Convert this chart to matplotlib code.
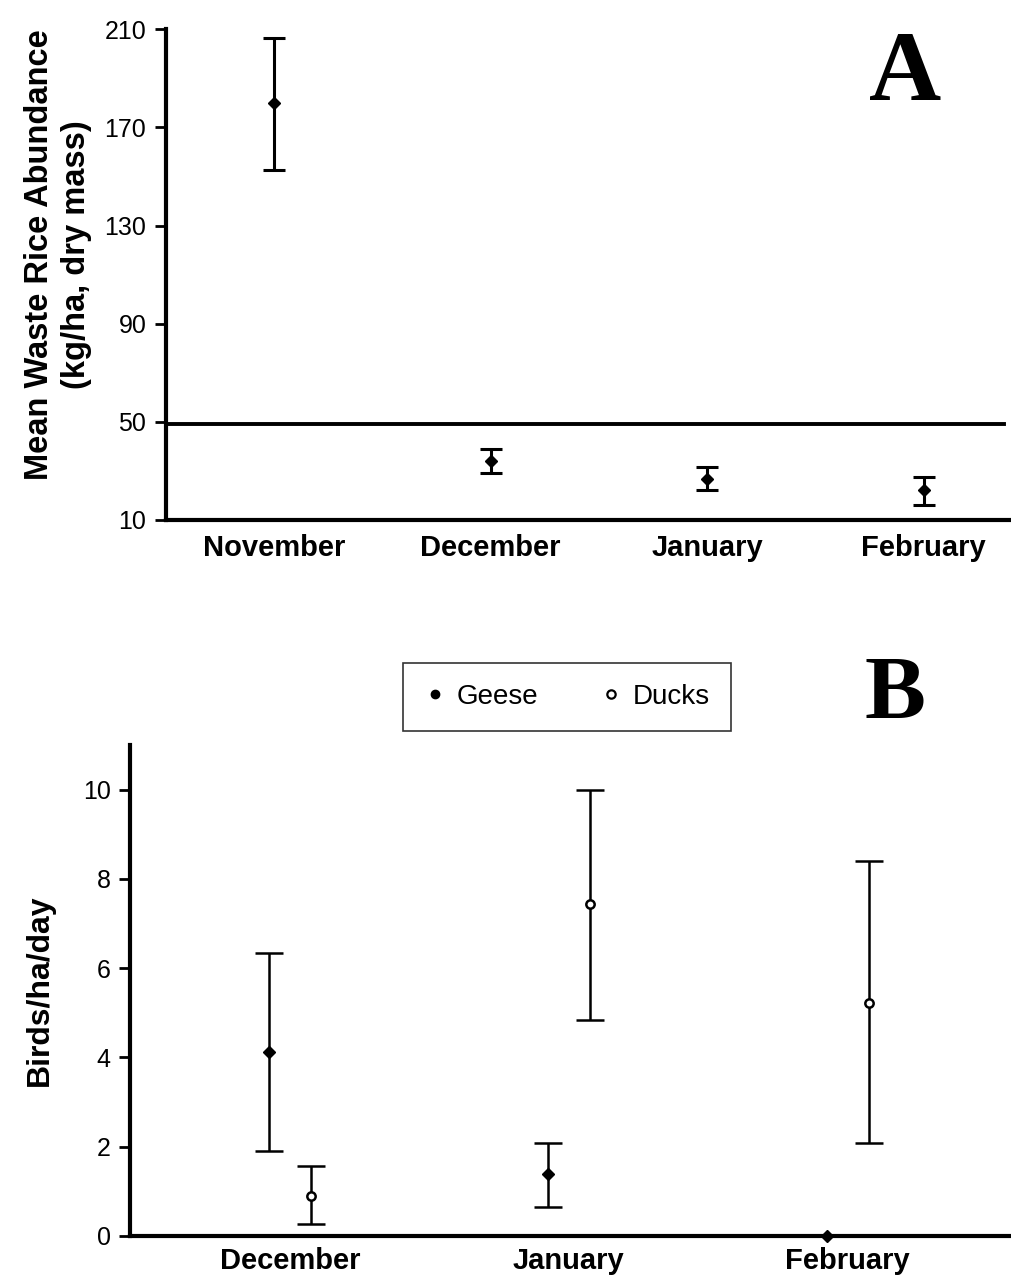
import matplotlib.pyplot as plt
from matplotlib.lines import Line2D

plt.rcParams['font.family'] = ['Liberation Sans', 'DejaVu Sans']

# Panel A: waste rice abundance
months_a = ['November', 'December', 'January', 'February']
rice_mean = [180, 34, 26.5, 22]
rice_low = [152.5, 29, 22, 16]
rice_high = [206.5, 39, 31.5, 27.5]
rice_threshold = 49

# Panel B: bird use
months_b = ['December', 'January', 'February']
geese_mean = [4.12, 1.38, 0.0]
geese_low = [1.9, 0.64, 0.0]
geese_high = [6.33, 2.09, 0.0]
ducks_mean = [0.9, 7.43, 5.21]
ducks_low = [0.26, 4.83, 2.08]
ducks_high = [1.56, 10.0, 8.41]

fig = plt.figure(figsize=(10.11, 12.8), dpi=100)

# ---- A ----
ax1 = fig.add_axes([0.164, 0.594, 0.846, 0.383])
xa = list(range(len(months_a)))
yerr_a = [[m - l for m, l in zip(rice_mean, rice_low)],
          [h - m for m, h in zip(rice_mean, rice_high)]]
ax1.errorbar(xa, rice_mean, yerr=yerr_a, fmt='D', color='black', ms=6,
             capsize=8, elinewidth=2.2, capthick=2.2)
ax1.axhline(rice_threshold, xmin=0, xmax=0.98, color='black', lw=2.8)
ax1.set_ylim(10, 210)
ax1.set_xlim(-0.5, 3.45)
ax1.set_yticks([10, 50, 90, 130, 170, 210])
ax1.set_xticks(xa)
ax1.set_xticklabels(months_a, fontsize=21, fontweight='bold')
ax1.tick_params(axis='y', labelsize=18, length=8, width=2, pad=6)
ax1.tick_params(axis='x', length=0, pad=10)
ax1.set_ylabel('Mean Waste Rice Abundance\n(kg/ha, dry mass)', fontsize=23.5,
               fontweight='bold', linespacing=1.25)
ax1.yaxis.set_label_coords(-0.086, 0.54)
for s in ['top', 'right']:
    ax1.spines[s].set_visible(False)
ax1.spines['left'].set_linewidth(3)
ax1.spines['bottom'].set_linewidth(3)
ax1.text(0.864, 0.905, 'A', transform=ax1.transAxes, fontsize=72,
         fontweight='bold', family='Liberation Serif', ha='center', va='center')

# ---- B ----
ax2 = fig.add_axes([0.1286, 0.0344, 0.8714, 0.3836])
xb = list(range(len(months_b)))
off = 0.075
xg = [x - off for x in xb]
xd = [x + off for x in xb]
yerr_g = [[m - l for m, l in zip(geese_mean, geese_low)],
          [h - m for m, h in zip(geese_mean, geese_high)]]
yerr_d = [[m - l for m, l in zip(ducks_mean, ducks_low)],
          [h - m for m, h in zip(ducks_mean, ducks_high)]]
ax2.errorbar(xg, geese_mean, yerr=yerr_g, fmt='D', color='black', ms=6,
             capsize=10, elinewidth=1.8, capthick=1.8, clip_on=False)
ax2.errorbar(xd, ducks_mean, yerr=yerr_d, fmt='o', color='black', mfc='white',
             mew=1.8, ms=6, capsize=10, elinewidth=1.8, capthick=1.8)
ax2.set_ylim(0, 11)
ax2.set_xlim(-0.573, 2.585)
ax2.set_yticks([0, 2, 4, 6, 8, 10])
ax2.set_xticks(xb)
ax2.set_xticklabels(months_b, fontsize=21, fontweight='bold')
ax2.tick_params(axis='y', labelsize=18, length=8, width=2, pad=6)
ax2.tick_params(axis='x', length=0, pad=8)
ax2.set_ylabel('Birds/ha/day', fontsize=23, fontweight='bold', labelpad=20)
for s in ['top', 'right']:
    ax2.spines[s].set_visible(False)
ax2.spines['left'].set_linewidth(3)
ax2.spines['bottom'].set_linewidth(3)
handles = [Line2D([], [], ls='none', marker='o', color='black', ms=6),
           Line2D([], [], ls='none', marker='o', color='black', mfc='white',
                  mew=1.6, ms=6)]
leg = ax2.legend(handles, ['Geese', 'Ducks'], loc='center',
                 bbox_to_anchor=(0.496, 1.098), ncol=2, fontsize=20,
                 frameon=True, fancybox=False, handlelength=0.8,
                 handletextpad=0.4, columnspacing=2.2, borderpad=0.75)
leg.get_frame().set_edgecolor('black')
leg.get_frame().set_linewidth(1.2)
ax2.text(0.868, 1.098, 'B', transform=ax2.transAxes, fontsize=66,
         fontweight='bold', family='Liberation Serif', ha='center', va='center')

fig.savefig('out.png', dpi=100)
